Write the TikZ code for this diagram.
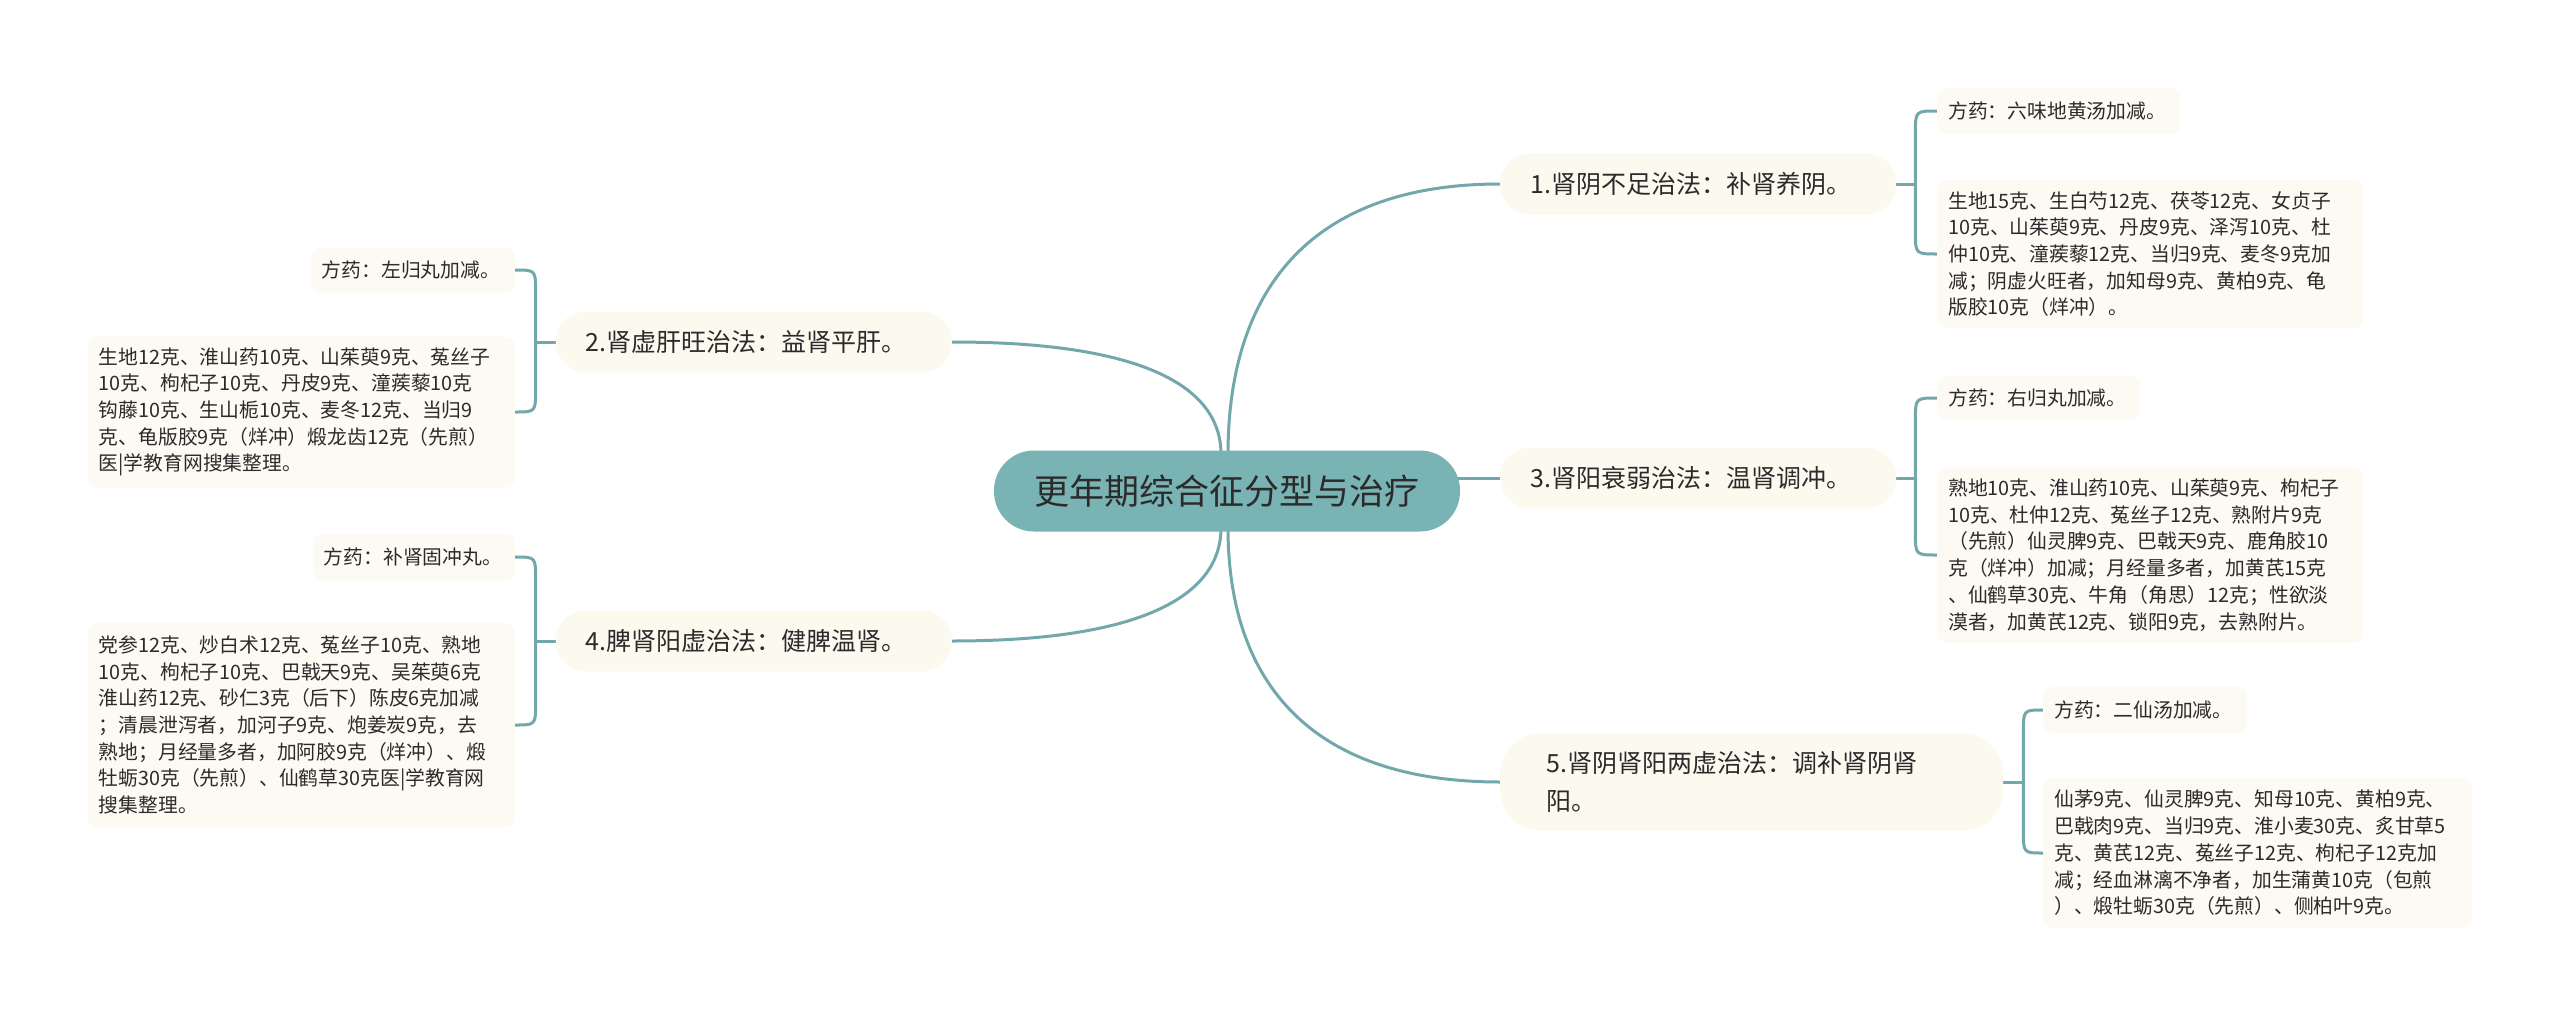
\documentclass[tikz,border=0pt]{standalone}
\usepackage{fontspec}
\newfontfamily\cjk{Noto Sans CJK SC}
\usetikzlibrary{calc,backgrounds}
\definecolor{rootc}{HTML}{79B3B4}
\definecolor{linec}{HTML}{72A8AB}
\definecolor{cream}{HTML}{FCF9EE}
\definecolor{leafc}{HTML}{FCFAF2}
\definecolor{txt}{HTML}{2B2B2B}
\tikzset{
  root/.style={fill=rootc, rounded corners=40pt, minimum width=466pt, minimum height=81pt, inner sep=0pt, text=txt, font=\cjk\fontsize{35pt}{42pt}\selectfont},
  topic/.style={fill=cream, rounded corners=30pt, inner xsep=30pt, inner ysep=0pt, minimum height=61pt, text width=336pt, align=left, text=txt, font=\cjk\fontsize{25pt}{37.5pt}\selectfont},
  leaf/.style={fill=leafc, rounded corners=10pt, inner xsep=11pt, inner ysep=0pt, align=left, text=txt, font=\cjk\fontsize{19.8pt}{26.7pt}\selectfont},
  link/.style={draw=linec, line width=3pt, line cap=round},
}
\begin{document}
\begin{tikzpicture}[x=1pt,y=-1pt]
\useasboundingbox (0,0) rectangle (2560,1017);

% root
\node[root] (c) at (1227,491) {更年期综合征分型与治疗};

% main topics
\node[topic, anchor=west] (n1) at (1500,184) {1.肾阴不足治法：补肾养阴。};
\node[topic, anchor=west] (n3) at (1500,478) {3.肾阳衰弱治法：温肾调冲。};
\node[topic, anchor=west, rounded corners=40pt, inner xsep=46pt, text width=411pt, minimum height=97pt] (n5) at (1500,782) {5.肾阴肾阳两虚治法：调补肾阴肾\\阳。};
\node[topic, anchor=east] (n2) at (952,342) {2.肾虚肝旺治法：益肾平肝。};
\node[topic, anchor=east] (n4) at (952,641) {4.脾肾阳虚治法：健脾温肾。};

% leaves right
\node[leaf, anchor=west, text width=221pt, minimum height=46pt] (a1) at (1937,111) {方药：六味地黄汤加减。};
\node[leaf, anchor=west, text width=404pt, minimum height=148pt] (b1) at (1937,254) {生地15克、生白芍12克、茯苓12克、女贞子\\10克、山茱萸9克、丹皮9克、泽泻10克、杜\\仲10克、潼蒺藜12克、当归9克、麦冬9克加\\减；阴虚火旺者，加知母9克、黄柏9克、龟\\版胶10克（烊冲）。};
\node[leaf, anchor=west, text width=181pt, minimum height=44pt] (a3) at (1937,398) {方药：右归丸加减。};
\node[leaf, anchor=west, text width=404pt, minimum height=175pt] (b3) at (1937,555) {熟地10克、淮山药10克、山茱萸9克、枸杞子\\10克、杜仲12克、菟丝子12克、熟附片9克\\（先煎）仙灵脾9克、巴戟天9克、鹿角胶10\\克（烊冲）加减；月经量多者，加黄芪15克\\、仙鹤草30克、牛角（角思）12克；性欲淡\\漠者，加黄芪12克、锁阳9克，去熟附片。};
\node[leaf, anchor=west, text width=182pt, minimum height=46pt] (a5) at (2043,710) {方药：二仙汤加减。};
\node[leaf, anchor=west, text width=407pt, minimum height=150pt] (b5) at (2043,853) {仙茅9克、仙灵脾9克、知母10克、黄柏9克、\\巴戟肉9克、当归9克、淮小麦30克、炙甘草5\\克、黄芪12克、菟丝子12克、枸杞子12克加\\减；经血淋漓不净者，加生蒲黄10克（包煎\\）、煅牡蛎30克（先煎）、侧柏叶9克。};

% leaves left
\node[leaf, anchor=east, text width=182pt, minimum height=45pt] (a2) at (515,270) {方药：左归丸加减。};
\node[leaf, anchor=east, text width=405pt, minimum height=151pt] (b2) at (515,412) {生地12克、淮山药10克、山茱萸9克、菟丝子\\10克、枸杞子10克、丹皮9克、潼蒺藜10克\\钩藤10克、生山栀10克、麦冬12克、当归9\\克、龟版胶9克（烊冲）煅龙齿12克（先煎）\\医|学教育网搜集整理。};
\node[leaf, anchor=east, text width=180pt, minimum height=47pt] (a4) at (515,557) {方药：补肾固冲丸。};
\node[leaf, anchor=east, text width=405pt, minimum height=204pt] (b4) at (515,725) {党参12克、炒白术12克、菟丝子10克、熟地\\10克、枸杞子10克、巴戟天9克、吴茱萸6克\\淮山药12克、砂仁3克（后下）陈皮6克加减\\；清晨泄泻者，加河子9克、炮姜炭9克，去\\熟地；月经量多者，加阿胶9克（烊冲）、煅\\牡蛎30克（先煎）、仙鹤草30克医|学教育网\\搜集整理。};

% bracket points
\coordinate (k1) at ($(n1.east)+(19,0)$);
\coordinate (k3) at ($(n3.east)+(19,0)$);
\coordinate (k5) at ($(n5.east)+(20,0)$);
\coordinate (k2) at ($(n2.west)+(-20,0)$);
\coordinate (k4) at ($(n4.west)+(-20,0)$);

\begin{scope}[on background layer]
\fill[white] (0,0) rectangle (2560,1017);
% root connectors
\draw[link] ($(c.north)+(1,4)$) .. controls ($(c.north)+(1,-160)$) and ($(n1.west)+(-190,0)$) .. (n1.west);
\draw[link] ($(c.south)+(1,-4)$) .. controls ($(c.south)+(1,150)$) and ($(n5.west)+(-190,0)$) .. (n5.west);
\draw[link] ($(c.north)+(-6,4)$) .. controls ($(c.north)+(-6,-65)$) and ($(n2.east)+(188,0)$) .. (n2.east);
\draw[link] ($(c.south)+(-6,-4)$) .. controls ($(c.south)+(-6,65)$) and ($(n4.east)+(188,0)$) .. (n4.east);
\draw[link] ($(c.east |- n3.west)+(-12,0)$) -- (n3.west);

% brackets right
\draw[link] (n1.east) -- (k1);
\draw[link] (a1.west) .. controls (k1 |- a1.west) .. ($(k1 |- a1.west)+(0,22)$) -- ($(k1 |- b1.west)+(0,-22)$) .. controls (k1 |- b1.west) .. (b1.west);
\draw[link] (n3.east) -- (k3);
\draw[link] (a3.west) .. controls (k3 |- a3.west) .. ($(k3 |- a3.west)+(0,22)$) -- ($(k3 |- b3.west)+(0,-22)$) .. controls (k3 |- b3.west) .. (b3.west);
\draw[link] (n5.east) -- (k5);
\draw[link] (a5.west) .. controls (k5 |- a5.west) .. ($(k5 |- a5.west)+(0,22)$) -- ($(k5 |- b5.west)+(0,-22)$) .. controls (k5 |- b5.west) .. (b5.west);
% brackets left
\draw[link] (n2.west) -- (k2);
\draw[link] (a2.east) .. controls (k2 |- a2.east) .. ($(k2 |- a2.east)+(0,22)$) -- ($(k2 |- b2.east)+(0,-22)$) .. controls (k2 |- b2.east) .. (b2.east);
\draw[link] (n4.west) -- (k4);
\draw[link] (a4.east) .. controls (k4 |- a4.east) .. ($(k4 |- a4.east)+(0,22)$) -- ($(k4 |- b4.east)+(0,-22)$) .. controls (k4 |- b4.east) .. (b4.east);
\end{scope}
\end{tikzpicture}
\end{document}
